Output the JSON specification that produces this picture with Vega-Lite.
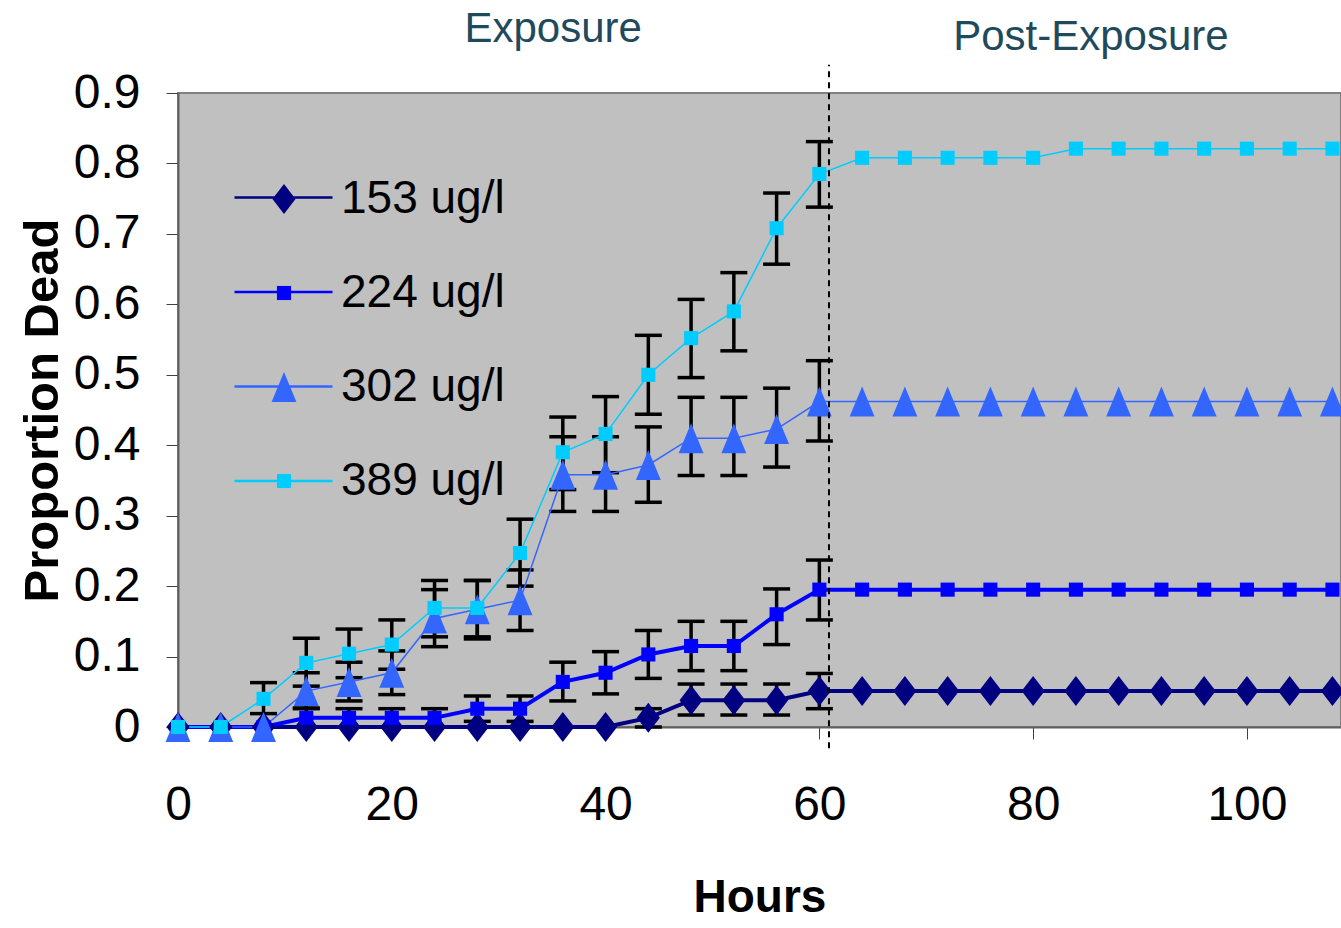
{
  "$schema": "https://vega.github.io/schema/vega-lite/v6.json",
  "width": 1163,
  "height": 634,
  "autosize": {"type": "none"},
  "padding": {"left": 178, "top": 93, "right": 0, "bottom": 201},
  "background": "white",
  "config": {
    "view": {"fill": "#C0C0C0", "stroke": "#808080", "strokeWidth": 2},
    "axis": {
      "grid": false,
      "domainColor": "#606060",
      "domainWidth": 2,
      "tickColor": "#404040",
      "tickWidth": 1,
      "tickSize": 12,
      "labelFlush": false,
      "labelFont": "Liberation Sans, Arial, sans-serif",
      "labelFontSize": 48,
      "labelColor": "#000000",
      "titleColor": "#000000"
    }
  },
  "datasets": {
    "d": [
      {"h": 0, "c": "153 ug/l", "p": 0}, {"h": 4, "c": "153 ug/l", "p": 0}, {"h": 8, "c": "153 ug/l", "p": 0},
      {"h": 12, "c": "153 ug/l", "p": 0}, {"h": 16, "c": "153 ug/l", "p": 0}, {"h": 20, "c": "153 ug/l", "p": 0},
      {"h": 24, "c": "153 ug/l", "p": 0}, {"h": 28, "c": "153 ug/l", "p": 0}, {"h": 32, "c": "153 ug/l", "p": 0},
      {"h": 36, "c": "153 ug/l", "p": 0}, {"h": 40, "c": "153 ug/l", "p": 0},
      {"h": 44, "c": "153 ug/l", "p": 0.013, "lo": 0.0, "hi": 0.026},
      {"h": 48, "c": "153 ug/l", "p": 0.038, "lo": 0.017, "hi": 0.061},
      {"h": 52, "c": "153 ug/l", "p": 0.038, "lo": 0.017, "hi": 0.061},
      {"h": 56, "c": "153 ug/l", "p": 0.038, "lo": 0.017, "hi": 0.061},
      {"h": 60, "c": "153 ug/l", "p": 0.051, "lo": 0.026, "hi": 0.076},
      {"h": 64, "c": "153 ug/l", "p": 0.051}, {"h": 68, "c": "153 ug/l", "p": 0.051}, {"h": 72, "c": "153 ug/l", "p": 0.051},
      {"h": 76, "c": "153 ug/l", "p": 0.051}, {"h": 80, "c": "153 ug/l", "p": 0.051}, {"h": 84, "c": "153 ug/l", "p": 0.051},
      {"h": 88, "c": "153 ug/l", "p": 0.051}, {"h": 92, "c": "153 ug/l", "p": 0.051}, {"h": 96, "c": "153 ug/l", "p": 0.051},
      {"h": 100, "c": "153 ug/l", "p": 0.051}, {"h": 104, "c": "153 ug/l", "p": 0.051}, {"h": 108, "c": "153 ug/l", "p": 0.051},

      {"h": 0, "c": "224 ug/l", "p": 0}, {"h": 4, "c": "224 ug/l", "p": 0}, {"h": 8, "c": "224 ug/l", "p": 0},
      {"h": 12, "c": "224 ug/l", "p": 0.013, "lo": 0.0, "hi": 0.026},
      {"h": 16, "c": "224 ug/l", "p": 0.013, "lo": 0.0, "hi": 0.026},
      {"h": 20, "c": "224 ug/l", "p": 0.013, "lo": 0.0, "hi": 0.026},
      {"h": 24, "c": "224 ug/l", "p": 0.013, "lo": 0.0, "hi": 0.026},
      {"h": 28, "c": "224 ug/l", "p": 0.026, "lo": 0.008, "hi": 0.044},
      {"h": 32, "c": "224 ug/l", "p": 0.026, "lo": 0.008, "hi": 0.044},
      {"h": 36, "c": "224 ug/l", "p": 0.064, "lo": 0.037, "hi": 0.092},
      {"h": 40, "c": "224 ug/l", "p": 0.077, "lo": 0.047, "hi": 0.107},
      {"h": 44, "c": "224 ug/l", "p": 0.103, "lo": 0.069, "hi": 0.137},
      {"h": 48, "c": "224 ug/l", "p": 0.115, "lo": 0.08, "hi": 0.15},
      {"h": 52, "c": "224 ug/l", "p": 0.115, "lo": 0.08, "hi": 0.15},
      {"h": 56, "c": "224 ug/l", "p": 0.16, "lo": 0.117, "hi": 0.196},
      {"h": 60, "c": "224 ug/l", "p": 0.195, "lo": 0.152, "hi": 0.237},
      {"h": 64, "c": "224 ug/l", "p": 0.195}, {"h": 68, "c": "224 ug/l", "p": 0.195}, {"h": 72, "c": "224 ug/l", "p": 0.195},
      {"h": 76, "c": "224 ug/l", "p": 0.195}, {"h": 80, "c": "224 ug/l", "p": 0.195}, {"h": 84, "c": "224 ug/l", "p": 0.195},
      {"h": 88, "c": "224 ug/l", "p": 0.195}, {"h": 92, "c": "224 ug/l", "p": 0.195}, {"h": 96, "c": "224 ug/l", "p": 0.195},
      {"h": 100, "c": "224 ug/l", "p": 0.195}, {"h": 104, "c": "224 ug/l", "p": 0.195}, {"h": 108, "c": "224 ug/l", "p": 0.195},

      {"h": 0, "c": "302 ug/l", "p": 0}, {"h": 4, "c": "302 ug/l", "p": 0}, {"h": 8, "c": "302 ug/l", "p": 0},
      {"h": 12, "c": "302 ug/l", "p": 0.051, "lo": 0.027, "hi": 0.077},
      {"h": 16, "c": "302 ug/l", "p": 0.064, "lo": 0.037, "hi": 0.092},
      {"h": 20, "c": "302 ug/l", "p": 0.077, "lo": 0.046, "hi": 0.108},
      {"h": 24, "c": "302 ug/l", "p": 0.154, "lo": 0.114, "hi": 0.195},
      {"h": 28, "c": "302 ug/l", "p": 0.167, "lo": 0.125, "hi": 0.208},
      {"h": 32, "c": "302 ug/l", "p": 0.18, "lo": 0.137, "hi": 0.223},
      {"h": 36, "c": "302 ug/l", "p": 0.358, "lo": 0.306, "hi": 0.412},
      {"h": 40, "c": "302 ug/l", "p": 0.358, "lo": 0.306, "hi": 0.412},
      {"h": 44, "c": "302 ug/l", "p": 0.372, "lo": 0.319, "hi": 0.426},
      {"h": 48, "c": "302 ug/l", "p": 0.41, "lo": 0.357, "hi": 0.468},
      {"h": 52, "c": "302 ug/l", "p": 0.41, "lo": 0.357, "hi": 0.468},
      {"h": 56, "c": "302 ug/l", "p": 0.423, "lo": 0.369, "hi": 0.481},
      {"h": 60, "c": "302 ug/l", "p": 0.462, "lo": 0.406, "hi": 0.52},
      {"h": 64, "c": "302 ug/l", "p": 0.462}, {"h": 68, "c": "302 ug/l", "p": 0.462}, {"h": 72, "c": "302 ug/l", "p": 0.462},
      {"h": 76, "c": "302 ug/l", "p": 0.462}, {"h": 80, "c": "302 ug/l", "p": 0.462}, {"h": 84, "c": "302 ug/l", "p": 0.462},
      {"h": 88, "c": "302 ug/l", "p": 0.462}, {"h": 92, "c": "302 ug/l", "p": 0.462}, {"h": 96, "c": "302 ug/l", "p": 0.462},
      {"h": 100, "c": "302 ug/l", "p": 0.462}, {"h": 104, "c": "302 ug/l", "p": 0.462}, {"h": 108, "c": "302 ug/l", "p": 0.462},

      {"h": 0, "c": "389 ug/l", "p": 0}, {"h": 4, "c": "389 ug/l", "p": 0},
      {"h": 8, "c": "389 ug/l", "p": 0.04, "lo": 0.019, "hi": 0.063},
      {"h": 12, "c": "389 ug/l", "p": 0.091, "lo": 0.058, "hi": 0.126},
      {"h": 16, "c": "389 ug/l", "p": 0.104, "lo": 0.07, "hi": 0.139},
      {"h": 20, "c": "389 ug/l", "p": 0.117, "lo": 0.082, "hi": 0.152},
      {"h": 24, "c": "389 ug/l", "p": 0.169, "lo": 0.128, "hi": 0.208},
      {"h": 28, "c": "389 ug/l", "p": 0.169, "lo": 0.128, "hi": 0.208},
      {"h": 32, "c": "389 ug/l", "p": 0.247, "lo": 0.2, "hi": 0.295},
      {"h": 36, "c": "389 ug/l", "p": 0.39, "lo": 0.337, "hi": 0.44},
      {"h": 40, "c": "389 ug/l", "p": 0.416, "lo": 0.361, "hi": 0.469},
      {"h": 44, "c": "389 ug/l", "p": 0.5, "lo": 0.444, "hi": 0.556},
      {"h": 48, "c": "389 ug/l", "p": 0.552, "lo": 0.496, "hi": 0.607},
      {"h": 52, "c": "389 ug/l", "p": 0.59, "lo": 0.534, "hi": 0.645},
      {"h": 56, "c": "389 ug/l", "p": 0.708, "lo": 0.657, "hi": 0.758},
      {"h": 60, "c": "389 ug/l", "p": 0.785, "lo": 0.738, "hi": 0.831},
      {"h": 64, "c": "389 ug/l", "p": 0.808}, {"h": 68, "c": "389 ug/l", "p": 0.808}, {"h": 72, "c": "389 ug/l", "p": 0.808},
      {"h": 76, "c": "389 ug/l", "p": 0.808}, {"h": 80, "c": "389 ug/l", "p": 0.808}, {"h": 84, "c": "389 ug/l", "p": 0.821},
      {"h": 88, "c": "389 ug/l", "p": 0.821}, {"h": 92, "c": "389 ug/l", "p": 0.821}, {"h": 96, "c": "389 ug/l", "p": 0.821},
      {"h": 100, "c": "389 ug/l", "p": 0.821}, {"h": 104, "c": "389 ug/l", "p": 0.821}, {"h": 108, "c": "389 ug/l", "p": 0.821}
    ]
  },
  "layer": [
    {
      "data": {"name": "d"},
      "transform": [{"filter": "isValid(datum.lo)"}],
      "mark": {"type": "rule", "color": "#000000", "strokeWidth": 3.5},
      "encoding": {
        "x": {"field": "h", "type": "quantitative", "scale": {"domain": [0, 108.8], "nice": false, "zero": false},
          "axis": {"values": [0, 20, 40, 60, 80, 100], "title": "Hours", "labelPadding": 42,
            "titleFont": "Liberation Sans, Arial, sans-serif",
            "titleFontSize": 46, "titleFontWeight": "bold", "titlePadding": 46}},
        "y": {"field": "lo", "type": "quantitative", "scale": {"domain": [0, 0.9], "nice": false, "zero": false},
          "axis": {"values": [0, 0.1, 0.2, 0.3, 0.4, 0.5, 0.6, 0.7, 0.8, 0.9], "format": ".1~f", "labelPadding": 26,
            "title": "Proportion Dead", "titleFont": "Liberation Sans, Arial, sans-serif", "titleFontSize": 49,
            "titleFontWeight": "bold", "titlePadding": 6}},
        "y2": {"field": "hi"}
      }
    },
    {
      "data": {"name": "d"},
      "transform": [{"filter": "isValid(datum.lo)"}],
      "mark": {"type": "point", "shape": "M-1,0H1", "filled": false, "stroke": "#000000", "strokeWidth": 3.5, "size": 729, "opacity": 1},
      "encoding": {
        "x": {"field": "h", "type": "quantitative"},
        "y": {"field": "lo", "type": "quantitative"}
      }
    },
    {
      "data": {"name": "d"},
      "transform": [{"filter": "isValid(datum.hi)"}],
      "mark": {"type": "point", "shape": "M-1,0H1", "filled": false, "stroke": "#000000", "strokeWidth": 3.5, "size": 729, "opacity": 1},
      "encoding": {
        "x": {"field": "h", "type": "quantitative"},
        "y": {"field": "hi", "type": "quantitative"}
      }
    },
    {
      "data": {"name": "d"},
      "transform": [{"filter": "datum.c == '153 ug/l' || datum.c == '224 ug/l'"}],
      "mark": {"type": "line", "strokeWidth": 4},
      "encoding": {
        "x": {"field": "h", "type": "quantitative"},
        "y": {"field": "p", "type": "quantitative"},
        "detail": {"field": "c"},
        "stroke": {"field": "c", "type": "nominal",
          "scale": {"domain": ["153 ug/l", "224 ug/l", "302 ug/l", "389 ug/l"], "range": ["#000080", "#0000FF", "#3366FF", "#00CCFF"]},
          "legend": {"orient": "none", "legendX": 55, "legendY": 54, "title": null, "padding": 0,
            "symbolType": "stroke", "symbolSize": 9604, "symbolStrokeWidth": 2.5, "rowPadding": 20.5,
            "labelFontSize": 46, "labelFont": "Liberation Sans, Arial, sans-serif", "labelColor": "transparent", "labelExpr": "''", "labelLimit": 400}}
      }
    },
    {
      "data": {"name": "d"},
      "transform": [{"filter": "datum.c == '302 ug/l' || datum.c == '389 ug/l'"}],
      "mark": {"type": "line", "strokeWidth": 1.5},
      "encoding": {
        "x": {"field": "h", "type": "quantitative"},
        "y": {"field": "p", "type": "quantitative"},
        "detail": {"field": "c"},
        "stroke": {"field": "c", "type": "nominal",
          "legend": {"orient": "none", "legendX": 55, "legendY": 54, "title": null, "padding": 0,
            "symbolType": "stroke", "symbolSize": 9604, "symbolStrokeWidth": 2.5, "rowPadding": 20.5,
            "labelFontSize": 46, "labelFont": "Liberation Sans, Arial, sans-serif", "labelColor": "transparent", "labelExpr": "''", "labelLimit": 400}}
      }
    },
    {
      "data": {"name": "d"},
      "mark": {"type": "point", "filled": true, "size": 900, "opacity": 1},
      "encoding": {
        "x": {"field": "h", "type": "quantitative"},
        "y": {"field": "p", "type": "quantitative"},
        "fill": {"field": "c", "type": "nominal",
          "scale": {"domain": ["153 ug/l", "224 ug/l", "302 ug/l", "389 ug/l"], "range": ["#000080", "#0000FF", "#3366FF", "#00CCFF"]}},
        "shape": {"field": "c", "type": "nominal",
          "scale": {"domain": ["153 ug/l", "224 ug/l", "302 ug/l", "389 ug/l"],
            "range": ["M0,-1L0.77,0L0,1L-0.77,0Z", "M-0.47,-0.47H0.47V0.47H-0.47Z", "M0,-1L0.83,1L-0.83,1Z", "M-0.47,-0.47H0.47V0.47H-0.47Z"]},
          "legend": {"orient": "top-left", "offset": 83, "title": null, "padding": 0,
            "labelFont": "Liberation Sans, Arial, sans-serif", "labelFontSize": 46, "labelColor": "#000000",
            "labelOffset": 34, "labelLimit": 400, "symbolSize": 900, "rowPadding": 48, "symbolStrokeWidth": 0}}
      }
    },
    {
      "data": {"values": [{}]},
      "mark": {"type": "rule", "color": "#000000", "strokeWidth": 2, "strokeDash": [6, 5]},
      "encoding": {
        "x": {"datum": 60.9, "type": "quantitative"},
        "y": {"datum": -0.03, "type": "quantitative"},
        "y2": {"datum": 0.94}
      }
    },
    {
      "data": {"values": [{}]},
      "mark": {"type": "text", "text": "Exposure", "font": "Liberation Sans, Arial, sans-serif", "fontSize": 42, "color": "#1F4A5C", "align": "center", "baseline": "alphabetic"},
      "encoding": {
        "x": {"datum": 35.1, "type": "quantitative"},
        "y": {"datum": 0.972, "type": "quantitative"}
      }
    },
    {
      "data": {"values": [{}]},
      "mark": {"type": "text", "text": "Post-Exposure", "font": "Liberation Sans, Arial, sans-serif", "fontSize": 42, "color": "#1F4A5C", "align": "center", "baseline": "alphabetic"},
      "encoding": {
        "x": {"datum": 85.4, "type": "quantitative"},
        "y": {"datum": 0.961, "type": "quantitative"}
      }
    }
  ]
}
